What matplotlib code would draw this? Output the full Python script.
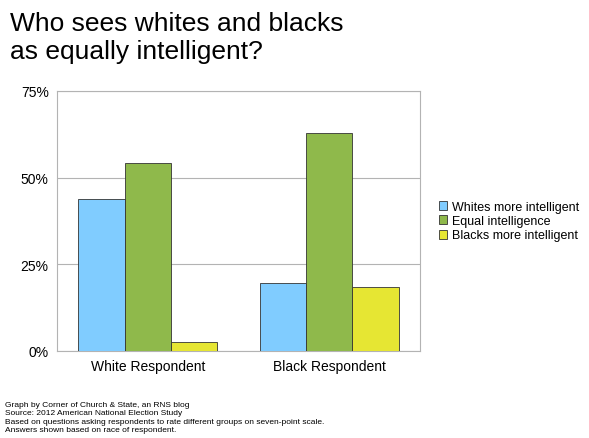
import matplotlib
matplotlib.use("Agg")
import matplotlib.pyplot as plt
import numpy as np

plt.rcParams['font.family'] = ['Liberation Sans', 'DejaVu Sans']

categories = ["White Respondent", "Black Respondent"]
series = ["Whites more intelligent", "Equal intelligence", "Blacks more intelligent"]
whites_more = [43.8, 19.6]
equal = [54.2, 62.9]
blacks_more = [2.6, 18.5]
colors = ["#80CCFF", "#8FB94B", "#E6E633"]
yticks = [0, 25, 50, 75]
ytick_labels = ["0%", "25%", "50%", "75%"]

fig = plt.figure(figsize=(5.89, 4.39), dpi=100)
ax = fig.add_axes([57/589, 87/439, 363/589, 260/439])
x = np.arange(len(categories))
w = 0.256
for i, (vals, lab) in enumerate(zip([whites_more, equal, blacks_more], series)):
    ax.bar(x + (i - 1) * w, vals, w, color=colors[i], edgecolor="#333333", linewidth=0.6, label=lab, zorder=3)
ax.set_xlim(-0.5, 1.5)
ax.set_ylim(0, 75)
ax.set_yticks(yticks)
ax.set_yticklabels(ytick_labels, fontsize=10)
ax.set_xticks(x)
ax.set_xticklabels(categories, fontsize=10)
ax.tick_params(length=0, pad=6)
ax.yaxis.grid(True, color="#b3b3b3", linewidth=0.8, zorder=0)
for s in ax.spines.values():
    s.set_color("#b3b3b3")
    s.set_linewidth(0.8)
ax.legend(loc="center left", bbox_to_anchor=(1.02, 0.5), frameon=False, fontsize=9,
          handlelength=0.7, handleheight=0.7, handletextpad=0.4, labelspacing=0.2)

fig.text(10/589, 1 - 38/439, "Who sees whites and blacks\nas equally intelligent?", fontsize=19,
         va="center", ha="left", linespacing=1.2)
fig.text(5/589, 5/439, "Graph by Corner of Church & State, an RNS blog\nSource: 2012 American National Election Study\n"
         "Based on questions asking respondents to rate different groups on seven-point scale.\n"
         "Answers shown based on race of respondent.", fontsize=6, va="bottom", ha="left", linespacing=1.25)
fig.savefig("out.png", dpi=100)
